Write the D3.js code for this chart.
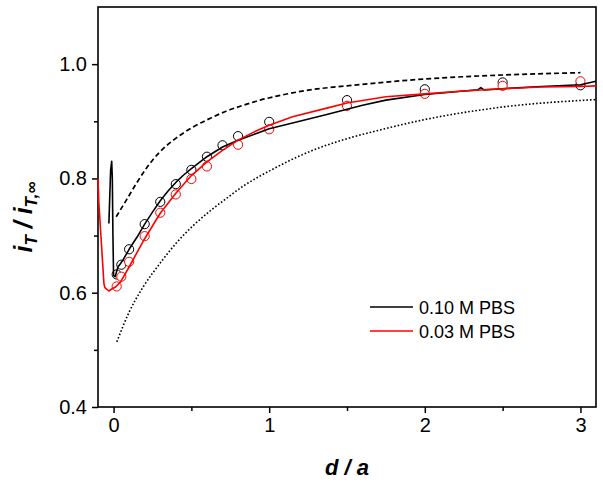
<!DOCTYPE html>
<html>
<head>
<meta charset="utf-8">
<script src="https://cdn.jsdelivr.net/npm/d3@7"></script>
<style>
  html, body { margin: 0; padding: 0; background: #fff; }
  svg { display: block; font-family: "Liberation Sans", Arial, sans-serif; }
</style>
</head>
<body>
<svg id="chart" width="603" height="483"></svg>
<script>
// ---- data ----
const xMajorTicks = [0, 1, 2, 3];
const xMinorTicks = [0.5, 1.5, 2.5];
const yMajorTicks = [0.4, 0.6, 0.8, 1.0];
const yMinorTicks = [0.5, 0.7, 0.9];

// experimental approach curves
const line010 = [[-0.030,0.721],[-0.019,0.814],[-0.012,0.830],[-0.008,0.800],[-0.004,0.700],[0.000,0.630],[0.010,0.628],[0.028,0.645],[0.045,0.651],[0.060,0.657],[0.100,0.676],[0.150,0.697],[0.200,0.720],[0.250,0.741],[0.300,0.761],[0.350,0.778],[0.400,0.793],[0.450,0.806],[0.500,0.817],[0.600,0.838],[0.700,0.855],[0.800,0.867],[0.900,0.877],[1.000,0.887],[1.150,0.897],[1.370,0.912],[1.500,0.921],[1.600,0.928],[1.750,0.937],[2.000,0.947],[2.250,0.953],[2.340,0.955],[2.360,0.959],[2.380,0.955],[2.500,0.957],[2.750,0.961],[3.000,0.964],[3.100,0.970]];
const line003 = [[-0.100,0.800],[-0.095,0.760],[-0.062,0.616],[-0.056,0.609],[-0.030,0.603],[-0.015,0.606],[0.013,0.610],[0.045,0.619],[0.100,0.645],[0.190,0.690],[0.300,0.739],[0.400,0.774],[0.500,0.805],[0.600,0.829],[0.700,0.849],[0.800,0.867],[0.900,0.881],[1.000,0.893],[1.150,0.908],[1.370,0.923],[1.500,0.932],[1.750,0.943],[2.000,0.948],[2.250,0.953],[2.500,0.957],[2.750,0.960],[3.000,0.961],[3.100,0.962]];

// simulated points
const simX010 = [0.02,0.05,0.1,0.2,0.3,0.4,0.5,0.6,0.7,0.8,1.0,1.5,2.0,2.5,3.0];
const simY010 = [0.632,0.649,0.676,0.720,0.759,0.790,0.815,0.838,0.858,0.874,0.899,0.937,0.956,0.968,0.963];
const simX003 = [0.02,0.05,0.1,0.2,0.3,0.4,0.5,0.6,0.8,1.0,1.5,2.0,2.5,3.0];
const simY003 = [0.611,0.628,0.654,0.699,0.740,0.772,0.799,0.821,0.859,0.886,0.927,0.948,0.962,0.970];

// theoretical limits
const dashedCurve = [[0.017,0.733],[0.082,0.762],[0.146,0.791],[0.211,0.818],[0.296,0.846],[0.404,0.871],[0.511,0.890],[0.619,0.905],[0.726,0.918],[0.833,0.928],[0.941,0.937],[1.048,0.944],[1.263,0.955],[1.500,0.962],[2.000,0.974],[2.500,0.981],[3.000,0.985]];
const dottedCurve = [[0.021,0.514],[0.100,0.566],[0.190,0.610],[0.300,0.652],[0.400,0.686],[0.510,0.717],[0.620,0.743],[0.730,0.766],[0.830,0.786],[0.940,0.804],[1.050,0.820],[1.160,0.835],[1.260,0.847],[1.480,0.868],[1.700,0.884],[2.000,0.903],[2.500,0.925],[3.100,0.938]];

const legendLabels = ["0.10 M PBS", "0.03 M PBS"];
const legendColors = ["#000000", "#ff0000"];

// ---- layout ----
const svg = d3.select("#chart");
const L = 98, R = 596, T = 7, B = 407;
const x = d3.scaleLinear().domain([-0.1, 3.1]).range([L, R]);
const y = d3.scaleLinear().domain([0.4, 1.1]).range([B, T]);

// frame
svg.append("rect").attr("x", L).attr("y", T).attr("width", R - L).attr("height", B - T)
  .attr("fill", "none").attr("stroke", "#000").attr("stroke-width", 1.6);

// axes
svg.append("g").attr("transform", `translate(0,${B})`)
  .call(d3.axisBottom(x).tickValues(xMajorTicks).tickFormat(d3.format("d")).tickSize(6).tickPadding(5));
svg.append("g").attr("transform", `translate(0,${B})`)
  .call(d3.axisBottom(x).tickValues(xMinorTicks).tickFormat("").tickSize(4));
svg.append("g").attr("transform", `translate(${L},0)`)
  .call(d3.axisLeft(y).tickValues(yMajorTicks).tickFormat(d3.format(".1f")).tickSize(6).tickPadding(5));
svg.append("g").attr("transform", `translate(${L},0)`)
  .call(d3.axisLeft(y).tickValues(yMinorTicks).tickFormat("").tickSize(4));
svg.selectAll(".domain").remove();
svg.selectAll(".tick line").attr("stroke", "#000").attr("stroke-width", 1.5);
svg.selectAll(".tick text").attr("font-size", 20).attr("fill", "#000")
  .attr("font-family", "Liberation Sans, Arial, sans-serif");

const line = d3.line().x(d => x(d[0])).y(d => y(d[1]));
const smooth = d3.line().x(d => x(d[0])).y(d => y(d[1])).curve(d3.curveMonotoneX);

// theory curves
svg.append("path").attr("d", smooth(dashedCurve)).attr("fill", "none")
  .attr("stroke", "#000").attr("stroke-width", 1.7).attr("stroke-dasharray", "5,3");
svg.append("path").attr("d", smooth(dottedCurve)).attr("fill", "none")
  .attr("stroke", "#000").attr("stroke-width", 1.6).attr("stroke-dasharray", "1.6,2");

// markers
svg.append("g").selectAll("circle").data(simX010.map((v, i) => [v, simY010[i]])).join("circle")
  .attr("cx", d => x(d[0])).attr("cy", d => y(d[1])).attr("r", 4.6)
  .attr("fill", "#fff").attr("stroke", "#000").attr("stroke-width", 1);
svg.append("g").selectAll("circle").data(simX003.map((v, i) => [v, simY003[i]])).join("circle")
  .attr("cx", d => x(d[0])).attr("cy", d => y(d[1])).attr("r", 4.6)
  .attr("fill", "#fff").attr("stroke", "#ff0000").attr("stroke-width", 1);

// experimental lines
svg.append("path").attr("d", line(line010)).attr("fill", "none")
  .attr("stroke", "#000").attr("stroke-width", 1.6).attr("stroke-linejoin", "round");
svg.append("path").attr("d", line(line003)).attr("fill", "none")
  .attr("stroke", "#ff0000").attr("stroke-width", 1.6).attr("stroke-linejoin", "round");

// legend
const lg = svg.append("g");
legendLabels.forEach((lab, i) => {
  const yy = 307 + i * 24;
  lg.append("line").attr("x1", 370).attr("x2", 413).attr("y1", yy).attr("y2", yy)
    .attr("stroke", legendColors[i]).attr("stroke-width", 1.6);
  lg.append("text").attr("x", 419).attr("y", yy + 6.5).attr("font-size", 18).text(lab);
});

// axis titles
svg.append("text").attr("x", 347).attr("y", 475).attr("text-anchor", "middle")
  .attr("font-size", 22).attr("font-weight", "bold").attr("font-style", "italic")
  .text("d / a");

const yl = svg.append("text").attr("transform", "translate(32,217) rotate(-90)")
  .attr("text-anchor", "middle").attr("font-weight", "bold").attr("font-style", "italic")
  .attr("font-size", 25);
yl.append("tspan").text("i");
yl.append("tspan").attr("font-size", 17).attr("dy", 5).text("T");
yl.append("tspan").attr("dy", -5).text(" / i");
yl.append("tspan").attr("font-size", 17).attr("dy", 5).text("T,∞");
</script>
</body>
</html>
